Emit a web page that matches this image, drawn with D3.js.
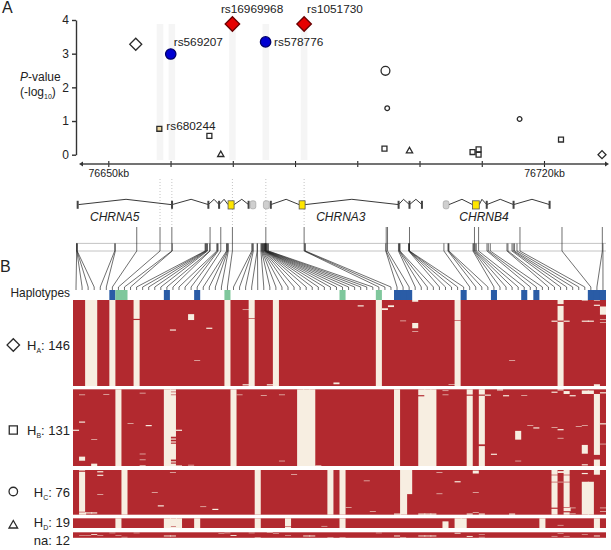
<!DOCTYPE html>
<html><head><meta charset="utf-8">
<script src="https://cdn.jsdelivr.net/npm/d3@7"></script>
<style>html,body{margin:0;padding:0;background:#fff}svg{display:block;font-family:"Liberation Sans",Arial,sans-serif;fill:#222}</style>
</head><body><svg id="c" width="611" height="550"></svg>
<script>
// Genome positions are kb past 76600.
const kbBase = 76600;
const axisTicks = [50,60,70,80,90,100,110,120];
const axisLabelled = [50,120];
const yTicks = [0,1,2,3,4];

// Panel A association points
const pointKb    = [54.41,60.03,69.94,81.46,75.27,58.20,66.24,68.07,94.53,94.81,94.37,98.39,108.52,109.49,109.49,116.08,122.73,129.32];
const pointLogP  = [3.28,2.99,3.88,3.88,3.35,0.77,0.56,0.00,2.49,1.38,0.18,0.11,0.08,0.16,0.00,1.06,0.45,0.00];
const pointShape = ["diamond","circle","diamond","diamond","circle","square","square","triangle","circle","circle","square","triangle","square","square","square","circle","square","diamond"];
const pointFill  = ["#fff","#0000d2","#e60000","#e60000","#0000d2","#f0d9a0","#fff","#fff","#fff","#fff","#fff","#fff","#fff","#fff","#fff","#fff","#fff","#fff"];
const pointLabel = ["","rs569207","rs16969968","rs1051730","rs578776","rs680244","","","","","","","","","","","",""];
const pointScale = [1.2,1.0,1.45,1.45,1.0,0.55,0.55,0.52,0.85,0.45,0.55,0.52,0.55,0.55,0.55,0.45,0.55,0.8];
const highlightCols = [7,8,25,44,50];

// Gene models
const geneNames = ["CHRNA5","CHRNA3","CHRNB4"];
const geneLabelKb = [47.06,83.4,106.4];
const exonBars  = [45.08,60.24,66.08,67.80,72.54,76.11,96.64,98.39,100.39,110.80,115.11,120.90];
const exonCoding = [[69.24,70.21],[80.66,81.62],[108.52,109.60]];
const exonUtr    = [[72.78,73.70],[74.92,75.88],[103.81,104.73]];
const introns = [[45.2,52.85,60.1],[60.24,63.3,66.08],[66.08,66.99,67.8],[67.8,68.6,69.24],[70.21,71.45,72.54],[76.11,78.57,80.66],[81.62,89.13,96.64],[96.64,97.43,98.39],[98.39,99.42,100.39],[104.73,106.82,108.52],[109.6,110.03,110.8],[110.8,112.97,115.11],[115.11,118.07,120.9]];

// One genome position per haplotype column
const snpKb = [44.92,44.94,44.97,45.00,51.03,51.13,54.57,58.31,60.21,60.27,
 65.55,65.64,65.74,65.84,65.93,66.29,66.35,67.43,67.54,67.64,68.07,69.00,69.08,69.18,69.28,69.94,
 73.05,73.17,73.30,73.91,73.97,
 74.52,74.63,74.71,74.79,74.87,74.95,75.03,75.10,75.16,75.21,75.24,75.27,75.29,75.31,75.35,75.43,75.51,75.63,75.72,
 81.46,81.56,81.66,94.58,94.65,94.86,96.62,96.72,96.80,96.86,98.25,98.30,98.34,98.38,98.39,
 103.92,104.57,104.65,104.73,108.59,108.70,108.83,108.95,109.12,109.49,110.84,111.05,111.37,
 114.05,114.21,114.86,115.06,115.27,115.66,116.14,122.89,129.37,129.47];
const tallCols = [6,7,8,16,20,25,44,50,54,55,64,71,74,84,85,86];
const tagBlueCols = [6,15,20,53,54,55,64,69,74,76,85,86,87];
const tagGreenCols = [7,8,25,44,50];

// Haplotype groups
const groupNames = ["A","B","C","D","na"];
const groupCounts = [146,131,76,19,12];
const groupShape = ["diamond","square","circle","triangle",""];

// Minor-allele columns: whole columns, [col,rowStart,rowEnd] runs, and single flips [col,row,span]
const fullLight = [
 [2,3,6,10,25,29,33,50,63,80],
 [7,15,16,26,37,38,39,53,57,58,59,65,67],
 [1,8,30,42,44,54,79,81],
 [7,15,16,17,20,30,44,63,64,77,86],
 []];
const partLight = [
 [],
 [[86,8,112],[86,120,131]],
 [[55,0,41],[84,20,76],[85,20,76]],
 [[35,0,16],[35,17,19],[61,6,19]],
 []];
const flips = [
 [[10,32,2],[28,16,1],[29,31,1],[28,143,2],[32,143,2],[19,24,10],[16,50,2],[22,47,2],[20,102,1],[47,9,2],[51,14,3],[52,9,3],[54,35,1],[56,39,9],[56,0,3],[56,53,1],[43,140,3],[62,143,1],[63,34,1],[72,102,1],[79,35,2],[80,35,2],[81,35,2],[80,7,3],[84,35,2],[85,35,2],[86,8,2],[87,11,14],[87,33,1],[87,38,1],[84,0,1],[86,0,1],[86,143,3]],
 [[1,9,1],[5,8,1],[11,6,1],[16,4,1],[16,9,1],[27,9,1],[31,10,1],[34,9,1],[1,55,2],[9,58,1],[12,61,2],[0,69,2],[3,85,1],[11,110,1],[11,120,1],[11,130,1],[1,115,7],[3,127,4],[17,69,2],[16,81,3],[16,86,3],[16,91,2],[16,120,3],[16,125,2],[17,130,1],[19,129,1],[34,122,1],[61,2,1],[61,9,1],[57,10,2],[65,9,2],[67,9,2],[68,9,2],[70,0,2],[71,10,2],[74,10,1],[79,4,2],[80,0,2],[81,3,5],[82,10,2],[84,2,6],[85,2,6],[87,5,2],[87,58,2],[75,61,1],[76,65,2],[79,65,1],[80,68,2],[80,83,1],[83,63,1],[84,61,1],[73,71,15],[69,110,2],[73,122,1],[84,95,15],[84,128,2],[67,94,3],[87,93,1],[40,130,1]],
 [[1,1,2],[1,71,1],[4,2,2],[4,8,2],[2,72,2],[3,72,2],[4,41,1],[16,4,1],[13,38,1],[14,60,2],[21,62,1],[23,66,2],[36,7,1],[45,63,1],[48,18,1],[49,70,1],[60,4,1],[60,40,1],[63,19,2],[66,1,5],[66,38,1],[66,72,1],[79,8,1],[79,20,1],[79,64,2],[81,8,1],[81,20,1],[81,63,1],[81,70,2],[80,20,1],[80,2,3],[82,64,1],[82,74,1],[84,5,2],[86,0,8],[87,64,1],[87,70,1],[57,74,2],[58,74,2],[59,74,2],[53,74,2],[65,74,2],[67,74,2],[72,74,2]],
 [[16,16,1],[41,15,1],[80,13,1]],
 [[1,6,1],[2,7,1],[3,4,2],[4,7,1],[6,1,1],[7,6,1],[8,10,1],[10,1,1],[15,7,2],[16,7,2],[24,2,1],[25,1,1],[26,6,2],[29,1,1],[30,11,1],[32,0,1],[33,2,1],[35,6,1],[38,7,2],[39,7,2],[42,11,1],[44,11,1],[50,1,1],[53,7,2],[54,11,1],[57,7,2],[58,7,2],[59,7,2],[63,1,2],[65,8,2],[67,4,1],[67,10,1],[79,8,1],[80,2,1],[81,8,1],[84,4,1],[86,7,2]]
];

// ---------- layout ----------
const svg = d3.select("#c");
const x = d3.scaleLinear().domain([50,120]).range([108.3,544]);
const y = d3.scaleLinear().domain([0,4]).range([154.7,20]);
const col = d3.scaleBand().domain(d3.range(snpKb.length)).range([73,606]);
const DARK="#b2292f", LIGHT="#f7eee1", BLUE="#2a5ca6", GREEN="#7fc79c", INK="#2b2b2b";
const groupBox = [[300,386],[389.3,466],[470,514.7],[518.3,528],[532.3,537.8]];
const font = (s,sz)=>s.style("font-size",sz+"px");

const panel = (t,xx,yy)=>font(svg.append("text").attr("x",xx).attr("y",yy).text(t),16);
panel("A",2,13); panel("B",0,272);

// highlight bands
svg.append("g").selectAll("rect").data(highlightCols).join("rect")
 .attr("x",c=>x(snpKb[c])-3.3).attr("width",6.6).attr("y",24).attr("height",136).attr("fill","#f5f5f5");

// y axis
const gy = svg.append("g").attr("transform","translate(76,0)")
 .call(d3.axisLeft(y).tickValues(yTicks).tickFormat(d3.format("d")).tickSize(4).tickSizeOuter(0).tickPadding(3));
gy.selectAll("path,line").attr("stroke","#333").attr("stroke-width",1.4);
gy.selectAll("text").style("font-size","12px").style("font-family","inherit").attr("fill","#222");
const yl = font(svg.append("text").attr("x",20).attr("y",81),12);
yl.append("tspan").style("font-style","italic").text("P");
yl.append("tspan").text("-value");
const yl2 = font(svg.append("text").attr("x",20).attr("y",96),12);
yl2.append("tspan").text("(-log");
yl2.append("tspan").attr("dy",2.5).style("font-size","7px").text("10");
yl2.append("tspan").attr("dy",-2.5).text(")");

// genome axis
const gx = svg.append("g").attr("transform","translate(0,164)")
 .call(d3.axisBottom(x).tickValues(axisTicks).tickFormat(d=>axisLabelled.includes(d)?(kbBase+d)+"kb":"").tickSize(3).tickSizeOuter(0));
gx.select("path").remove();
gx.selectAll("line").attr("y1",-3).attr("y2",3).attr("stroke","#222").attr("stroke-width",1.1);
gx.selectAll("text").attr("y",13).attr("dy",0).style("font-size","10.6px").style("font-family","inherit").attr("fill","#222");
gx.append("line").attr("x1",82).attr("x2",606).attr("stroke","#444").attr("stroke-width",1.4);
gx.append("path").attr("d","M79,0L83,-2.5L83,2.5Z").attr("fill","#333");
gx.append("path").attr("d","M609,0L605,-2.5L605,2.5Z").attr("fill","#333");

// symbols
const symPath = (shape,k)=>{
 if(shape==="circle") return d3.symbol().type(d3.symbolCircle).size(Math.PI*k*k*27)();
 if(shape==="square") return d3.symbol().type(d3.symbolSquare).size(k*k*81)();
 if(shape==="diamond") return d3.symbol().type(d3.symbolSquare).size(k*k*50)();
 return d3.symbol().type(d3.symbolTriangle).size(k*k*62)();
};
const symRot = s=>s==="diamond"?" rotate(45)":"";
const strokeOf = f=> f==="#e60000"?"#6b0000":f==="#0000d2"?"#00006b":INK;
svg.append("g").selectAll("path").data(d3.range(pointKb.length)).join("path")
 .attr("d",i=>symPath(pointShape[i],pointScale[i]))
 .attr("transform",i=>`translate(${x(pointKb[i])},${y(pointLogP[i])})${symRot(pointShape[i])}`)
 .attr("fill",i=>pointFill[i]).attr("stroke",i=>strokeOf(pointFill[i])).attr("stroke-width",1.3);
const labelOffset = {"rs569207":[3,-8.5],"rs16969968":[-11.5,-11],"rs1051730":[3,-11],"rs578776":[8.5,3.7],"rs680244":[7,1]};
svg.append("g").selectAll("text").data(d3.range(pointKb.length).filter(i=>pointLabel[i])).join("text")
 .attr("x",i=>x(pointKb[i])+labelOffset[pointLabel[i]][0])
 .attr("y",i=>y(pointLogP[i])+labelOffset[pointLabel[i]][1])
 .style("font-size","11.8px").text(i=>pointLabel[i]);

// dotted guides
svg.append("g").selectAll("line").data(highlightCols).join("line")
 .attr("x1",c=>x(snpKb[c])).attr("x2",c=>x(snpKb[c])).attr("y1",179).attr("y2",227)
 .attr("stroke","#aaa").attr("stroke-width",.7).attr("stroke-dasharray","1 2");

// genes
const gy0=204.6, gPeak=199.3;
svg.append("g").selectAll("path").data(introns).join("path")
 .attr("d",d=>`M${x(d[0])},${gy0}L${x(d[1])},${gPeak}L${x(d[2])},${gy0}`)
 .attr("fill","none").attr("stroke","#222").attr("stroke-width",.9);
svg.append("g").selectAll("rect").data(exonBars).join("rect")
 .attr("x",d=>x(d)-1).attr("width",2).attr("y",200.8).attr("height",8).attr("fill","#444");
svg.append("g").selectAll("rect").data(exonUtr).join("rect")
 .attr("x",d=>x(d[0])).attr("width",d=>x(d[1])-x(d[0])).attr("y",200.8).attr("height",8).attr("rx",2)
 .attr("fill","#cfcfcf").attr("stroke","#999").attr("stroke-width",.6);
svg.append("g").selectAll("rect").data(exonCoding).join("rect")
 .attr("x",d=>x(d[0])).attr("width",d=>x(d[1])-x(d[0])).attr("y",200.8).attr("height",8.2)
 .attr("fill","#ffe600").attr("stroke","#555").attr("stroke-width",.8);
svg.append("g").selectAll("text").data(geneNames).join("text")
 .attr("x",(d,i)=>x(geneLabelKb[i])).attr("y",221).style("font-size","12px").style("font-style","italic").text(d=>d);

// SNP band and connector fan
const bandTop=243.4, bandBot=251, fanEnd=287, stripTop=290, stripBot=300;
svg.append("g").selectAll("line").data([bandTop,bandBot]).join("line")
 .attr("x1",76).attr("x2",606).attr("y1",d=>d).attr("y2",d=>d).attr("stroke","#b5b5b5").attr("stroke-width",.8);
const cx=i=>col(i)+col.bandwidth()/2;
svg.append("g").selectAll("path").data(d3.range(snpKb.length)).join("path")
 .attr("d",i=>`M${x(snpKb[i])},${tallCols.includes(i)?227:bandTop}L${x(snpKb[i])},${bandBot}L${cx(i)},${fanEnd}L${cx(i)},${stripTop}`)
 .attr("fill","none").attr("stroke","#222").attr("stroke-width",.65);

// Haplotypes strip
font(svg.append("text").attr("x",70).attr("y",297).attr("text-anchor","end").text("Haplotypes"),11.9);
const strip = (cols,c)=>svg.append("g").selectAll("rect").data(cols).join("rect")
 .attr("x",d=>col(d)).attr("width",d=>col.bandwidth()+(cols.includes(d+1)?1:0)).attr("y",stripTop).attr("height",stripBot-stripTop).attr("fill",c);
strip(tagBlueCols,BLUE); strip(tagGreenCols,GREEN);

// Haplotype matrix
groupCounts.forEach((n,g)=>{
 const ry=d3.scaleLinear().domain([0,n]).range(groupBox[g]);
 const nc=snpKb.length;
 const m=d3.range(nc).map(()=>new Uint8Array(n));
 fullLight[g].forEach(c=>m[c].fill(1));
 partLight[g].forEach(([c,a,b])=>m[c].fill(1,a,b));
 flips[g].forEach(([c,r,s])=>{for(let k=r;k<Math.min(n,r+s);k++)m[c][k]^=1;});
 const gg=svg.append("g");
 gg.append("rect").attr("x",col.range()[0]).attr("width",col.range()[1]-col.range()[0])
  .attr("y",groupBox[g][0]).attr("height",groupBox[g][1]-groupBox[g][0]).attr("fill",DARK);
 const runs=[];
 m.forEach((arr,c)=>{let r=0;while(r<n){if(arr[r]){let e=r;while(e<n&&arr[e])e++;runs.push([c,r,e]);r=e;}else r++;}});
 gg.selectAll("rect.r").data(runs).join("rect").attr("class","r")
  .attr("x",d=>col(d[0]))
  .attr("width",d=>col.bandwidth()+(d[0]+1<nc&&m[d[0]+1][d[1]]?1:0))
  .attr("y",d=>ry(d[1])).attr("height",d=>ry(d[2])-ry(d[1])).attr("fill",LIGHT);
});

// Group labels
const labelBase=[350,434.5,496.5,527,545], symY=[345,430,491.5,525.5], symK=[1.25,.9,.82,.72];
groupNames.forEach((nm,g)=>{
 const t=font(svg.append("text").attr("x",70).attr("y",labelBase[g]).attr("text-anchor","end"),13);
 if(nm==="na"){t.text("na: "+groupCounts[g]);return;}
 t.append("tspan").text("H");
 t.append("tspan").attr("dy",3).style("font-size","7px").text(nm);
 t.append("tspan").attr("dy",-3).text(": "+groupCounts[g]);
 svg.append("path").attr("d",symPath(groupShape[g],symK[g]))
  .attr("transform",`translate(13.3,${symY[g]})${symRot(groupShape[g])}`)
  .attr("fill","#fff").attr("stroke",INK).attr("stroke-width",1.3);
});
</script></body></html>
